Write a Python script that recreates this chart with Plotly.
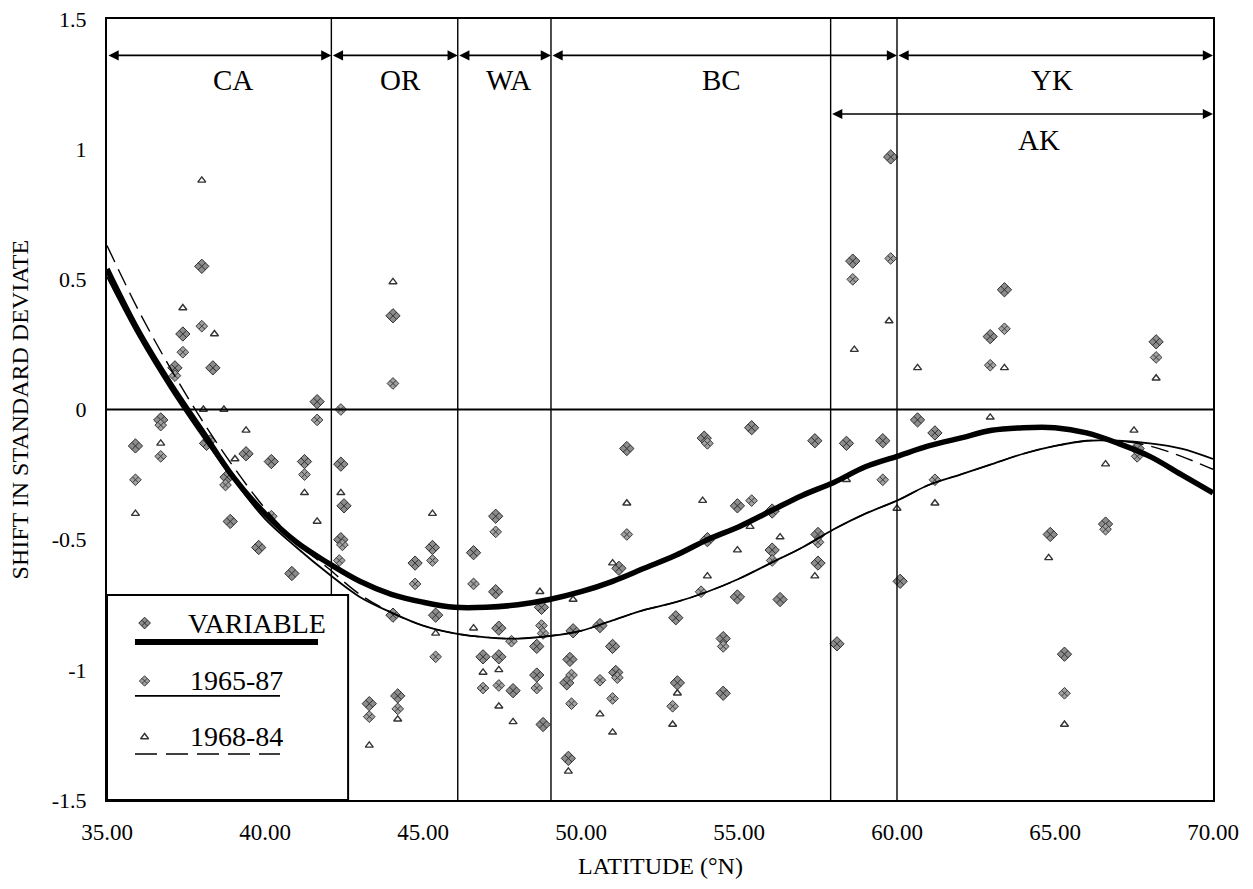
import plotly.graph_objects as go

# ---- fitted curves (every degree of latitude) ----
lat_curve = list(range(35, 71))
variable_curve = [0.54, 0.30, 0.10, -0.08, -0.26, -0.40, -0.51, -0.59, -0.66, -0.71,
                  -0.74, -0.76, -0.76, -0.75, -0.73, -0.70, -0.66, -0.61, -0.56, -0.50,
                  -0.45, -0.39, -0.33, -0.28, -0.22, -0.18, -0.14, -0.11, -0.08, -0.07,
                  -0.07, -0.09, -0.13, -0.18, -0.25, -0.32]
curve_6587 = [0.51, 0.28, 0.08, -0.10, -0.27, -0.42, -0.53, -0.63, -0.72, -0.78,
              -0.83, -0.86, -0.875, -0.88, -0.87, -0.85, -0.81, -0.77, -0.74, -0.70,
              -0.65, -0.59, -0.53, -0.46, -0.40, -0.35, -0.29, -0.25, -0.21, -0.17,
              -0.14, -0.12, -0.12, -0.13, -0.15, -0.19]
curve_6884 = [0.63, 0.38, 0.16, -0.04, -0.22, -0.38, -0.51, -0.61, -0.71, -0.78,
              -0.83, -0.86, -0.875, -0.88, -0.87, -0.85, -0.81, -0.77, -0.74, -0.70,
              -0.65, -0.59, -0.53, -0.46, -0.40, -0.35, -0.29, -0.25, -0.21, -0.17,
              -0.14, -0.12, -0.12, -0.14, -0.18, -0.23]

# ---- station points ----
var_x = [38.0, 37.4, 37.15, 38.35, 41.65, 36.7, 35.9, 38.15, 39.4, 40.2, 41.25, 38.8, 38.9,
         39.8, 40.85, 42.4, 42.5, 42.4,
         44.05, 45.3, 44.75, 44.05, 45.4, 43.3, 44.2,
         46.6, 47.3, 47.3, 47.4, 48.6, 48.75, 46.9, 47.4, 47.85, 48.6, 48.8,
         49.75, 49.65, 49.55, 49.6, 51.45, 51.2, 50.6, 51.0, 51.1, 53.0, 53.05, 53.9, 54.0,
         54.95, 54.95, 54.5, 54.5, 55.4, 56.05, 56.05, 56.3, 57.4, 57.5, 57.5, 58.1,
         59.8, 58.6, 58.4, 59.55, 60.1,
         60.65, 61.2, 63.4, 62.95, 68.2, 67.6, 66.6, 64.85, 65.3]
var_y = [0.55, 0.29, 0.16, 0.16, 0.03, -0.04, -0.14, -0.13, -0.17, -0.20, -0.20, -0.26, -0.43,
         -0.53, -0.63, -0.21, -0.37, -0.50,
         0.36, -0.53, -0.59, -0.79, -0.79, -1.13, -1.10,
         -0.55, -0.41, -0.70, -0.84, -0.91, -0.76, -0.95, -0.95, -1.08, -1.02, -1.21,
         -0.85, -0.96, -1.05, -1.34, -0.15, -0.61, -0.83, -0.91, -1.01, -0.80, -1.05, -0.11, -0.50,
         -0.37, -0.72, -0.88, -1.09, -0.07, -0.39, -0.54, -0.73, -0.12, -0.48, -0.59, -0.90,
         0.97, 0.57, -0.13, -0.12, -0.66,
         -0.04, -0.09, 0.46, 0.28, 0.26, -0.15, -0.44, -0.48, -0.94]

p6587_x = [38.0, 37.4, 37.15, 41.65, 36.7, 36.7, 35.9, 38.25, 41.25, 38.75, 40.2, 42.45, 42.35, 42.4,
           44.05, 45.3, 44.75, 45.4, 43.3, 44.2,
           46.6, 47.3, 47.8, 48.75, 48.8, 46.9, 47.4, 48.6,
           49.7, 49.7, 51.45, 51.15, 50.6, 51.0, 52.9, 54.0, 53.8, 55.4, 54.5, 56.05, 57.5,
           59.8, 58.6, 59.55,
           61.2, 63.4, 62.95, 68.2, 67.6, 66.6, 65.3]
p6587_y = [0.32, 0.22, 0.13, -0.04, -0.06, -0.18, -0.27, -0.12, -0.25, -0.29, -0.41, -0.52, -0.58, 0.0,
           0.10, -0.58, -0.67, -0.95, -1.18, -1.15,
           -0.67, -0.47, -0.89, -0.83, -0.86, -1.07, -1.06, -1.07,
           -1.02, -1.13, -0.48, -1.03, -1.04, -1.11, -1.14, -0.13, -0.70, -0.35, -0.91, -0.58, -0.51,
           0.58, 0.50, -0.27,
           -0.27, 0.31, 0.17, 0.20, -0.18, -0.46, -1.09]

p6884_x = [38.0, 37.4, 38.4, 38.05, 38.7, 36.7, 39.4, 39.05, 41.25, 42.4, 35.9, 41.65,
           44.05, 45.3, 45.4, 43.3, 44.2,
           46.6, 48.7, 46.9, 47.4, 47.4, 47.85,
           49.75, 49.6, 51.45, 51.0, 50.6, 51.0, 53.05, 52.9, 53.85, 54.0, 54.95, 55.35, 56.3, 57.4,
           59.75, 58.65, 58.4, 60.0,
           60.65, 61.2, 63.4, 62.95, 68.2, 67.5, 66.6, 64.8, 65.3]
p6884_y = [0.88, 0.39, 0.29, 0.0, 0.0, -0.13, -0.08, -0.19, -0.32, -0.32, -0.40, -0.43,
           0.49, -0.40, -0.86, -1.29, -1.19,
           -0.84, -0.70, -1.01, -1.00, -1.14, -1.20,
           -0.73, -1.39, -0.36, -0.59, -1.17, -1.24, -1.09, -1.21, -0.35, -0.64, -0.54, -0.45, -0.49, -0.64,
           0.34, 0.23, -0.27, -0.38,
           0.16, -0.36, 0.16, -0.03, 0.12, -0.08, -0.21, -0.57, -1.21]

# ---- regions ----
boundaries = [42.1, 46.1, 49.05, 57.9, 60.0]
region_names = ["CA", "OR", "WA", "BC", "YK", "AK"]
region_start = [35.0, 42.1, 46.1, 49.05, 60.0, 57.9]
region_end = [42.1, 46.1, 49.05, 60.0, 70.0, 70.0]
region_arrow_y = [1.36, 1.36, 1.36, 1.36, 1.36, 1.135]
region_label_x = [39.0, 44.3, 47.7, 54.45, 64.9, 64.5]
region_label_y = [1.265, 1.265, 1.265, 1.265, 1.265, 1.035]

x_ticks = [35, 40, 45, 50, 55, 60, 65, 70]
x_tick_text = ["35.00", "40.00", "45.00", "50.00", "55.00", "60.00", "65.00", "70.00"]
y_ticks = [1.5, 1, 0.5, 0, -0.5, -1, -1.5]
y_tick_text = ["1.5", "1", "0.5", "0", "-0.5", "-1", "-1.5"]

legend_labels = ["VARIABLE", "1965-87", "1968-84"]

FONT = "Liberation Serif, Times New Roman, DejaVu Serif, serif"
fig = go.Figure()

mk_var = dict(symbol="diamond-x", size=11, color="#8c8c8c", line=dict(color="#2e2e2e", width=1))
mk_6587 = dict(symbol="diamond-x", size=9, color="#a0a0a0", line=dict(color="#3c3c3c", width=1))
mk_6884 = dict(symbol="triangle-up-open", size=7, color="#333", line=dict(width=1.4))

# points
fig.add_trace(go.Scatter(x=var_x, y=var_y, mode="markers", showlegend=False, marker=mk_var))
fig.add_trace(go.Scatter(x=p6587_x, y=p6587_y, mode="markers", showlegend=False, marker=mk_6587))
fig.add_trace(go.Scatter(x=p6884_x, y=p6884_y, mode="markers", showlegend=False, marker=mk_6884))

# curves
fig.add_trace(go.Scatter(x=lat_curve, y=curve_6884, mode="lines", line_shape="spline", showlegend=False,
                         line=dict(color="black", width=1.4, dash="18px,8px")))
fig.add_trace(go.Scatter(x=lat_curve, y=curve_6587, mode="lines", line_shape="spline", showlegend=False,
                         line=dict(color="black", width=1.8)))
fig.add_trace(go.Scatter(x=lat_curve, y=variable_curve, mode="lines", line_shape="spline", showlegend=False,
                         line=dict(color="black", width=5.5)))

shapes = []
legend_top = -0.715
for i, b in enumerate(boundaries):
    shapes.append(dict(type="line", xref="x", yref="y", x0=b, x1=b,
                       y0=legend_top if i == 0 else -1.5, y1=1.5,
                       line=dict(color="black", width=1.4)))
shapes.append(dict(type="line", xref="x", yref="y", x0=35, x1=70, y0=0, y1=0,
                   line=dict(color="black", width=1.8)))

annotations = []
for name, s, e, ay, lx, ly in zip(region_names, region_start, region_end, region_arrow_y,
                                  region_label_x, region_label_y):
    annotations.append(dict(x=e, y=ay, ax=s, ay=ay, xref="x", yref="y", axref="x", ayref="y",
                            text="", showarrow=True, arrowside="end+start", arrowhead=2,
                            startarrowhead=2, arrowsize=1.2, startarrowsize=1.2, arrowwidth=1.7,
                            arrowcolor="black", standoff=0, startstandoff=0))
    annotations.append(dict(x=lx, y=ly, xref="x", yref="y", text=name, showarrow=False,
                            font=dict(family=FONT, size=29, color="black")))

# legend box
shapes.append(dict(type="rect", xref="x domain", yref="y domain", x0=0, x1=0.218, y0=0.0, y1=0.2625,
                   line=dict(color="black", width=2), fillcolor="rgba(255,255,255,0)", layer="above"))

leg_marker_y = [0.2266, 0.1524, 0.0807]
leg_line_y = [0.2023, 0.1332, 0.0589]
leg_line_x1 = [0.1908, 0.1564, 0.1564]
leg_text_x = [0.0714, 0.0733, 0.0733]
leg_styles = [dict(color="black", width=6), dict(color="black", width=1.8),
              dict(color="black", width=1.6, dash="22px,9px")]
leg_markers = [dict(mk_var, size=9), dict(mk_6587, size=8), mk_6884]
for lab, my, ly, lx1, tx, st, mk in zip(legend_labels, leg_marker_y, leg_line_y, leg_line_x1,
                                        leg_text_x, leg_styles, leg_markers):
    fig.add_trace(go.Scatter(x=[0.034], y=[my], xaxis="x2", yaxis="y2", mode="markers",
                             marker=mk, showlegend=False))
    fig.add_trace(go.Scatter(x=[0.0253, lx1], y=[ly, ly], xaxis="x2", yaxis="y2", mode="lines",
                             line=st, showlegend=False))
    annotations.append(dict(x=tx, y=my, xref="x domain", yref="y domain", text=lab, showarrow=False,
                            xanchor="left", yanchor="middle",
                            font=dict(family=FONT, size=28, color="black")))

# axis titles
annotations.append(dict(x=0.5, y=-0.085, xref="paper", yref="paper", text="LATITUDE (°N)",
                        showarrow=False, xanchor="center", yanchor="middle",
                        font=dict(family=FONT, size=24, color="black")))
annotations.append(dict(x=-0.0787, y=0.5, xref="paper", yref="paper", text="SHIFT IN STANDARD DEVIATE",
                        showarrow=False, textangle=-90, xanchor="center", yanchor="middle",
                        font=dict(family=FONT, size=24, color="black")))

# page body has an 8px default margin, so the figure is sized to fit the window
fig.update_layout(
    width=1245, height=881,
    margin=dict(l=99, r=40, t=11, b=89, autoexpand=False),
    paper_bgcolor="white", plot_bgcolor="white",
    showlegend=False,
    font=dict(family=FONT, size=22, color="black"),
    xaxis=dict(range=[35, 70], tickvals=x_ticks, ticktext=x_tick_text, showgrid=False,
               zeroline=False, showline=True, linecolor="black", linewidth=2, mirror=True,
               ticks="", ticklabelstandoff=10, automargin=False, ticklabeloverflow="allow",
               tickfont=dict(family=FONT, size=23)),
    yaxis=dict(range=[-1.5, 1.5], tickvals=y_ticks, ticktext=y_tick_text, showgrid=False,
               zeroline=False, showline=True, linecolor="black", linewidth=2, mirror=True,
               ticks="", ticklabelstandoff=14, automargin=False, ticklabeloverflow="allow",
               tickfont=dict(family=FONT, size=22)),
    xaxis2=dict(range=[0, 1], overlaying="x", visible=False),
    yaxis2=dict(range=[0, 1], overlaying="y", visible=False),
    shapes=shapes,
    annotations=annotations,
)

fig.write_html("out.html")
